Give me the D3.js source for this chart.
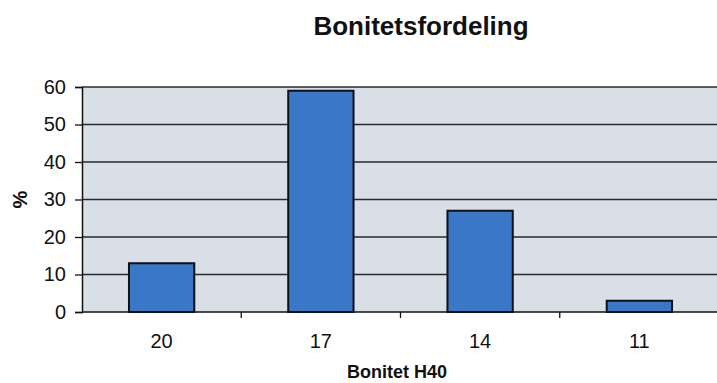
<!DOCTYPE html>
<html>
<head>
<meta charset="utf-8">
<script src="https://cdn.jsdelivr.net/npm/d3@7"></script>
<style>
  html, body { margin: 0; padding: 0; background: #ffffff; }
  svg { display: block; font-family: "Liberation Sans", Arial, sans-serif; }
</style>
</head>
<body>
<svg id="chart" width="717" height="383"></svg>
<script>
const categories = ["20", "17", "14", "11"];
const values = [13, 59, 27, 3];
const yTicks = [0, 10, 20, 30, 40, 50, 60];
const title = "Bonitetsfordeling";
const xTitle = "Bonitet H40";
const yTitle = "%";

(function () {
const svg = d3.select("#chart");
const pLeft = 82, pRight = 719, pTop = 87, pBottom = 312;

const x = d3.scaleBand().domain(categories).range([pLeft, pRight])
  .paddingInner(0.59).paddingOuter(0.295);
const y = d3.scaleLinear().domain([0, 60]).range([pBottom, pTop]);

// plot background
svg.append("rect").attr("x", pLeft).attr("y", pTop)
  .attr("width", pRight - pLeft).attr("height", pBottom - pTop)
  .attr("fill", "#d8dfe6");

// gridlines
svg.append("g").selectAll("line").data(yTicks.filter(d => d > 0)).join("line")
  .attr("x1", pLeft).attr("x2", pRight)
  .attr("y1", d => y(d)).attr("y2", d => y(d))
  .attr("stroke", "#2a2a2a").attr("stroke-width", 1.4);

// bars
svg.append("g").selectAll("rect").data(values).join("rect")
  .attr("x", (d, i) => x(categories[i]))
  .attr("width", x.bandwidth())
  .attr("y", d => y(d))
  .attr("height", d => y(0) - y(d))
  .attr("fill", "#3a77c6")
  .attr("stroke", "#111")
  .attr("stroke-width", 2);

// y axis
const yAxis = d3.axisLeft(y).tickValues(yTicks).tickSize(7).tickPadding(9);
const gy = svg.append("g").attr("transform", `translate(${pLeft},0)`).call(yAxis);
gy.select(".domain").attr("stroke", "#111").attr("stroke-width", 1.5);
gy.selectAll(".tick line").attr("stroke", "#111").attr("stroke-width", 1.3);
gy.selectAll(".tick text").attr("font-size", 20).attr("fill", "#111")
  .attr("font-family", "'Liberation Sans', Arial, sans-serif");

// x axis line
svg.append("line").attr("x1", pLeft).attr("x2", pRight)
  .attr("y1", pBottom).attr("y2", pBottom)
  .attr("stroke", "#111").attr("stroke-width", 1.5);

// x ticks between categories
const step = x.step();
const boundaries = categories.slice(1).map(c => x(c) - x.paddingInner() * step / 2);
svg.append("g").selectAll("line").data(boundaries).join("line")
  .attr("x1", d => d).attr("x2", d => d)
  .attr("y1", pBottom).attr("y2", pBottom + 6)
  .attr("stroke", "#111").attr("stroke-width", 1.3);

// x labels
svg.append("g").selectAll("text").data(categories).join("text")
  .attr("x", d => x(d) + x.bandwidth() / 2)
  .attr("y", 348)
  .attr("text-anchor", "middle")
  .attr("font-size", 20).attr("fill", "#111")
  .text(d => d);

// title
svg.append("text").attr("x", 421).attr("y", 35)
  .attr("text-anchor", "middle").attr("font-size", 26)
  .attr("font-weight", "bold").attr("fill", "#111").text(title);

// x title
svg.append("text").attr("x", 397).attr("y", 378)
  .attr("text-anchor", "middle").attr("font-size", 18)
  .attr("font-weight", "bold").attr("fill", "#111").text(xTitle);

// y title
svg.append("text").attr("transform", `translate(27,${(pTop + pBottom) / 2}) rotate(-90)`)
  .attr("text-anchor", "middle").attr("font-size", 20)
  .attr("font-weight", "bold").attr("fill", "#111").text(yTitle);
})();
</script>
</body>
</html>
